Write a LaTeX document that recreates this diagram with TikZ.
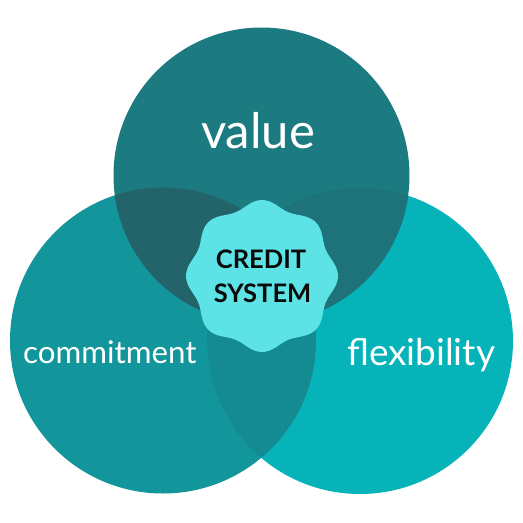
\documentclass[tikz,border=0pt]{standalone}
\usepackage{fontspec}
\setmainfont{Lato}
\definecolor{colT}{HTML}{1C7B81}
\definecolor{colL}{HTML}{12969B}
\definecolor{colR}{HTML}{06B3B9}
\definecolor{colTL}{HTML}{23636A}
\definecolor{colTR}{HTML}{1E7279}
\definecolor{colLR}{HTML}{138B90}
\definecolor{colTLR}{HTML}{1F6268}
\definecolor{colBadge}{HTML}{5DE2E6}
\definecolor{colInk}{HTML}{0A0A0A}
\tikzset{
  label/.style={text=white, inner sep=0pt, anchor=base},
  badgetext/.style={text=colInk, inner sep=0pt, anchor=base, font=\bfseries\fontsize{25.5}{25.5}\selectfont}
}
\begin{document}
\begin{tikzpicture}[x=1pt,y=-1pt]
\useasboundingbox (0,0) rectangle (523,523);
\fill[white] (0,0) rectangle (523,523);
\coordinate (cT) at (261.5,175.5);
\coordinate (cL) at (163,340.5);
\coordinate (cR) at (360,341);
\fill[colL] (cL) circle (153);
\fill[colR] (cR) circle (153);
\fill[colT] (cT) circle (148);
\begin{scope}
  \clip (cL) circle (153);
  \fill[colLR] (cR) circle (153);
\end{scope}
\begin{scope}
  \clip (cT) circle (148);
  \fill[colTL] (cL) circle (153);
\end{scope}
\begin{scope}
  \clip (cT) circle (148);
  \fill[colTR] (cR) circle (153);
\end{scope}
\begin{scope}
  \clip (cT) circle (148);
  \clip (cL) circle (153);
  \fill[colTLR] (cR) circle (153);
\end{scope}
\fill[colBadge] plot[domain=0:358,samples=180,smooth cycle]
  ({262+(72.5+3.5*cos(8*\x))*cos(\x)},{276+(72.5+3.5*cos(8*\x))*sin(\x)});
\node[label, font=\fontsize{49}{49}\selectfont] (value) at (258,148) {value};
\node[label, font=\fontsize{31.3}{31.3}\selectfont, anchor=base west] (commit) at (23,363) {commitment};
\node[label, font=\fontsize{37}{37}\selectfont, anchor=base west] (flex) at (347,365) {flexibility};
\node[badgetext] (credit) at (261,268) {CREDIT};
\node[badgetext] (system) at (262.5,302) {SYSTEM};
\end{tikzpicture}
\end{document}
